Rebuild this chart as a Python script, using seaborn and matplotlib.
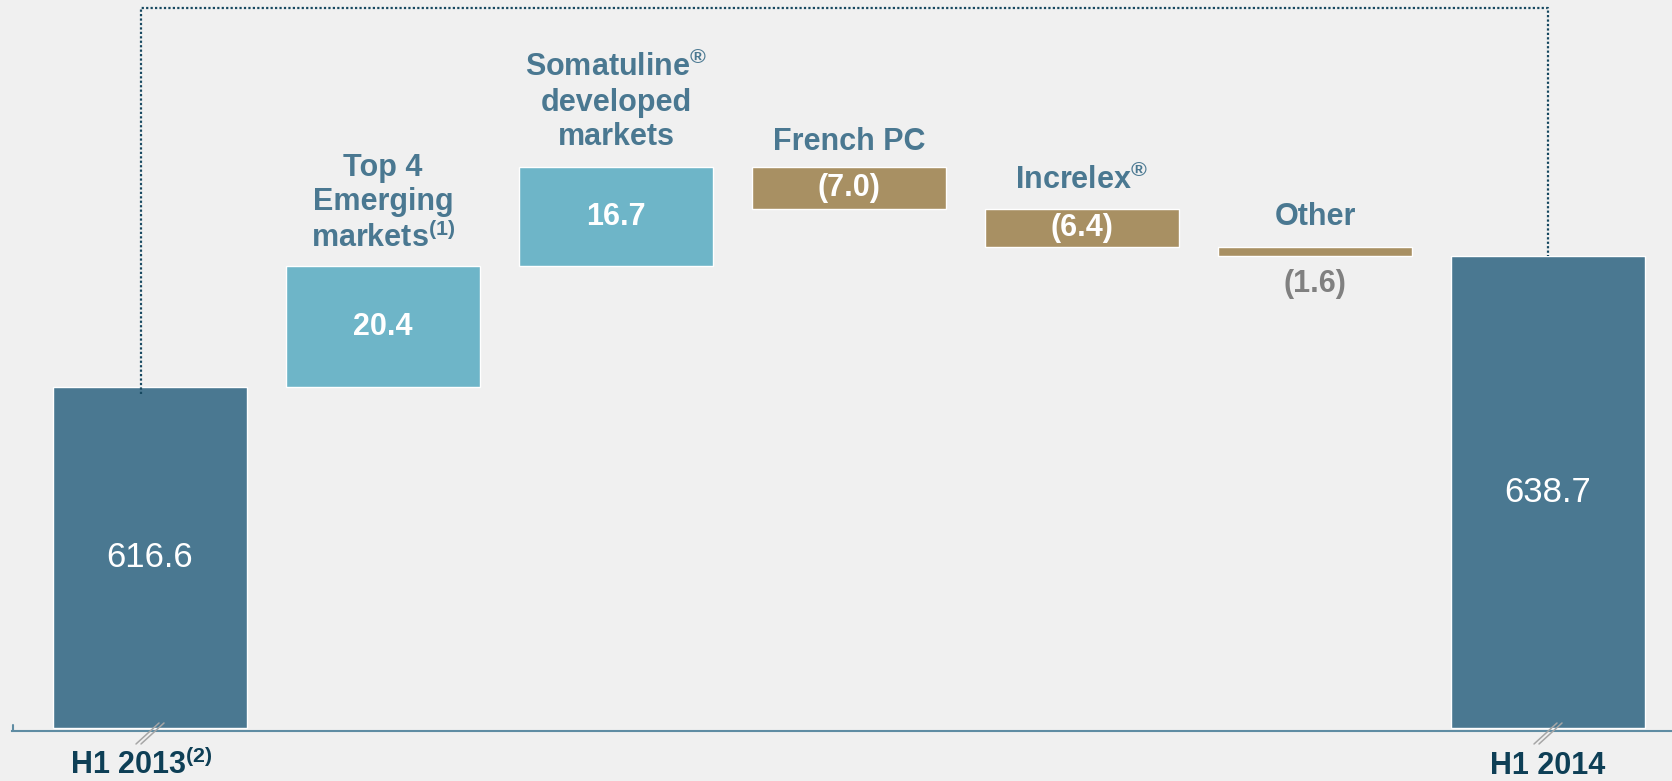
import matplotlib
matplotlib.use("Agg")
import matplotlib.pyplot as plt
import numpy as np
import pandas as pd
import seaborn as sns

# chart data
categories = ["H1 2013", "Top 4 Emerging markets", "Somatuline developed markets",
              "French PC", "Increlex", "Other", "H1 2014"]
start_value = 616.6
end_value = 638.7
deltas = [20.4, 16.7, -7.0, -6.4, -1.6]
axis_base = 559.1  # broken axis: bars start here

top_labels = ["Top 4\nEmerging\nmarkets$^{\\mathbf{(1)}}$",
              "Somatuline$^{\\mathbf{®}}$\ndeveloped\nmarkets",
              "French PC",
              "Increlex$^{\\mathbf{®}}$",
              "Other"]
value_labels = ["616.6", "20.4", "16.7", "(7.0)", "(6.4)", "(1.6)", "638.7"]
x_labels = {0: "H1 2013$^{\\mathbf{(2)}}$", 6: "H1 2014"}

# colours
bg = "#f0f0f0"
dark = "#4a7891"
light = "#6eb5c8"
tan = "#a89063"
label_col = "#4a7891"
cat_col = "#0e3f56"

sns.set_style("white")
plt.rcParams["font.family"] = ["Liberation Sans", "DejaVu Sans"]
plt.rcParams["mathtext.fontset"] = "custom"
plt.rcParams["mathtext.rm"] = "Liberation Sans"
plt.rcParams["mathtext.bf"] = "Liberation Sans:bold"

# waterfall geometry
running = [start_value]
for d in deltas:
    running.append(running[-1] + d)
bottoms = [axis_base] + running[:len(deltas)] + [axis_base]
heights = [start_value - axis_base] + deltas + [end_value - axis_base]
colors = [dark] + [light if d > 0 else tan for d in deltas] + [dark]

df = pd.DataFrame({"cat": categories, "height": heights, "bottom": bottoms})

W, H = 1672, 781
px_per_unit = 5.928
cat_step = 233.0
fig = plt.figure(figsize=(W / 100, H / 100), dpi=100, facecolor=bg)
ax_left, ax_bottom = 12, 731  # pixels
ax = fig.add_axes([ax_left / W, (H - ax_bottom) / H, 1 - ax_left / W, ax_bottom / H])
ax.set_facecolor(bg)

sns.barplot(data=df, x="cat", y="height", bottom=df["bottom"].values, color=dark,
            width=0.83, errorbar=None, edgecolor="white", linewidth=1, ax=ax)
for patch, c in zip(ax.patches, colors):
    patch.set_facecolor(c)

y0 = axis_base - 3 / px_per_unit
ax.set_ylim(y0, y0 + ax_bottom / px_per_unit)
x0 = -(150 - ax_left) / cat_step
ax.set_xlim(x0, x0 + (W - ax_left) / cat_step)
ax.set_xticks([])
ax.set_yticks([])
ax.set_xlabel("")
ax.set_ylabel("")
for s in ["top", "right", "left"]:
    ax.spines[s].set_visible(False)
ax.spines["bottom"].set_color("#5f8ca3")
ax.spines["bottom"].set_linewidth(1.5)
ax.plot([x0 + 0.003, x0 + 0.003], [y0, y0 + 1.0], color="#5f8ca3", lw=1.5, clip_on=False)

# value labels
for i, (txt, b, h) in enumerate(zip(value_labels, bottoms, heights)):
    if i in (0, 6):
        ax.text(i, b + h / 2, txt, ha="center", va="center", color="white", fontsize=25)
    elif i == 5:
        ax.annotate(txt, xy=(i, min(b, b + h)), xytext=(0, -13), textcoords="offset pixels",
                    ha="center", va="top", color="#808080", fontsize=22, fontweight="bold")
    else:
        ax.text(i, b + h / 2, txt, ha="center", va="center", color="white",
                fontsize=22, fontweight="bold")

# category labels above floating bars
label_pad = [12, 15, 10, 13, 15]
for k, txt in enumerate(top_labels):
    i = k + 1
    top = max(bottoms[i], bottoms[i] + heights[i])
    ax.annotate(txt, xy=(i, top), xytext=(0, label_pad[k]), textcoords="offset pixels",
                ha="center", va="bottom", color=label_col, fontsize=22,
                fontweight="bold", linespacing=1.2)

# x labels for totals
x_shift = {0: -9, 6: 0}
for i, txt in x_labels.items():
    ax.annotate(txt, xy=(i, 0), xycoords=("data", "axes fraction"), xytext=(x_shift[i], -43),
                textcoords="offset pixels", ha="center", va="baseline",
                color=cat_col, fontsize=22, fontweight="bold", annotation_clip=False)

# dotted connector between the two totals
top_y = axis_base + (728 - 8.5) / px_per_unit
ax.plot([-0.039, -0.039, 6, 6], [615.4, top_y, top_y, end_value],
        color="#164860", lw=1.6, linestyle=(0, (1, 1)), dash_capstyle="butt",
        clip_on=False, zorder=5)

# axis break marks
yc = axis_base - 5 / px_per_unit
for i in (0, 6):
    for off in (-2.5, 2.5):
        xs = [i + (off - 11.5) / cat_step, i + (off + 11.5) / cat_step]
        ys = [yc - 11 / px_per_unit, yc + 10 / px_per_unit]
        ax.plot(xs, ys, color="#a6a6a6", lw=1.1, clip_on=False, zorder=6)

fig.savefig("out.png", dpi=100, facecolor=bg)
